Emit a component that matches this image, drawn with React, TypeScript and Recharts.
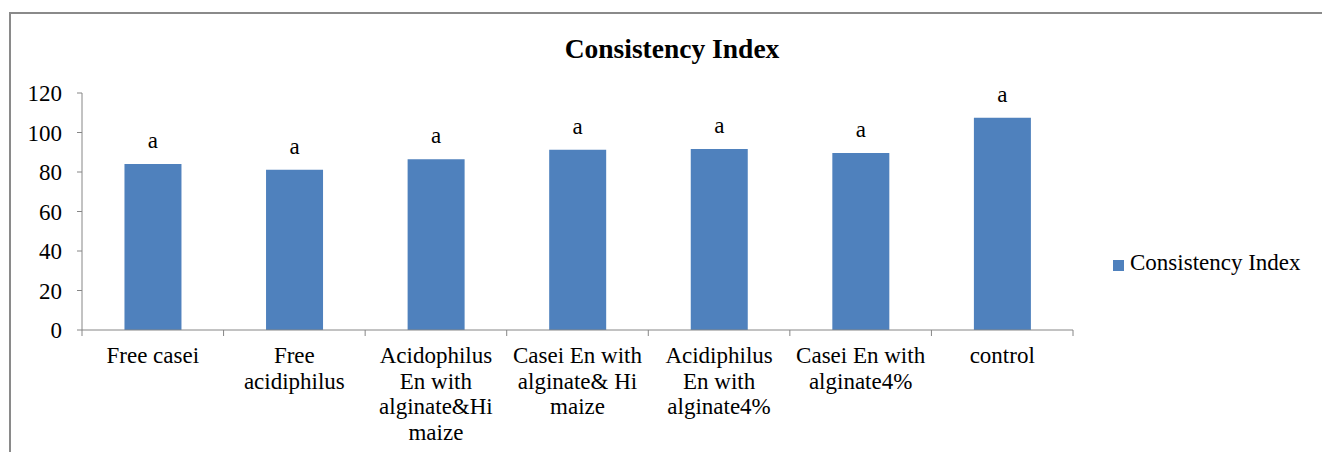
import { BarChart, Bar, XAxis, YAxis, LabelList, Legend } from 'recharts'

const categories = [
  'Free casei',
  'Free\nacidiphilus',
  'Acidophilus\nEn with\nalginate&Hi\nmaize',
  'Casei En with\nalginate& Hi\nmaize',
  'Acidiphilus\nEn with\nalginate4%',
  'Casei En with\nalginate4%',
  'control',
]
const consistencyIndex = [84.1, 81.2, 86.5, 91.3, 91.6, 89.6, 107.5]
const letters = ['a', 'a', 'a', 'a', 'a', 'a', 'a']
const yTicks = [0, 20, 40, 60, 80, 100, 120]

const data = categories.map((name, i) => ({ name, value: consistencyIndex[i], letter: letters[i] }))

const FONT = "'Liberation Serif', 'Times New Roman', serif"
const AXIS = '#868686'
const BLUE = '#4F81BD'

// category label plus Excel-style tick marks on the category edges
function CategoryTick({ x, y, payload, index }: any) {
  const lines = String(payload.value).split('\n')
  const half = payload.offset || 0
  const axisY = y - 8
  return (
    <g>
      <line x1={x - half} x2={x - half} y1={axisY} y2={axisY + 6} stroke={AXIS} />
      {index === categories.length - 1 && (
        <line x1={x + half} x2={x + half} y1={axisY} y2={axisY + 6} stroke={AXIS} />
      )}
      <text x={x} y={y + 25} textAnchor="middle" fill="#000" fontSize={23} fontFamily={FONT}>
        {lines.map((l, i) => (
          <tspan key={i} x={x} dy={i === 0 ? 0 : 25.5}>{l}</tspan>
        ))}
      </text>
    </g>
  )
}

function LegendBox() {
  return (
    <div style={{ display: 'flex', alignItems: 'flex-start', fontFamily: FONT, fontSize: 23, lineHeight: '23px', color: '#000', whiteSpace: 'nowrap' }}>
      <span style={{ display: 'inline-block', width: 11, height: 11, background: BLUE, marginTop: 9, marginRight: 6 }} />
      <span>Consistency Index</span>
    </div>
  )
}

export default function App() {
  return (
    <div style={{ position: 'absolute', left: 0, top: 0, width: 1322, height: 452, background: '#fff', overflow: 'hidden' }}>
      <BarChart width={1322} height={452} data={data} margin={{ top: 93, right: 249, bottom: 22, left: 0 }} barCategoryGap="30%">
        <XAxis
          dataKey="name"
          interval={0}
          height={100}
          stroke={AXIS}
          tickLine={false}
          tickSize={6}
          tickMargin={2}
          tick={<CategoryTick />}
        />
        <YAxis
          domain={[0, 120]}
          ticks={yTicks}
          width={82}
          stroke={AXIS}
          tickSize={5}
          tickMargin={15}
          tick={{ fill: '#000', fontSize: 23, fontFamily: FONT }}
        />
        <Legend
          layout="horizontal"
          align="center"
          verticalAlign="middle"
          wrapperStyle={{ left: 1113, top: 251, width: 'auto' }}
          content={() => <LegendBox />}
        />
        <Bar dataKey="value" fill={BLUE} isAnimationActive={false} name="Consistency Index">
          <LabelList dataKey="letter" position="top" offset={16} fill="#000" fontSize={23} fontFamily={FONT} />
        </Bar>
      </BarChart>
      <svg width={1322} height={452} style={{ position: 'absolute', left: 0, top: 0, pointerEvents: 'none' }}>
        <rect x={10} y={13} width={1400} height={500} fill="none" stroke="#8a8a8a" strokeWidth={2} />
        <text x={672} y={58} textAnchor="middle" fontSize={27.5} fontWeight="bold" fontFamily={FONT} fill="#000">
          Consistency Index
        </text>
      </svg>
    </div>
  )
}
